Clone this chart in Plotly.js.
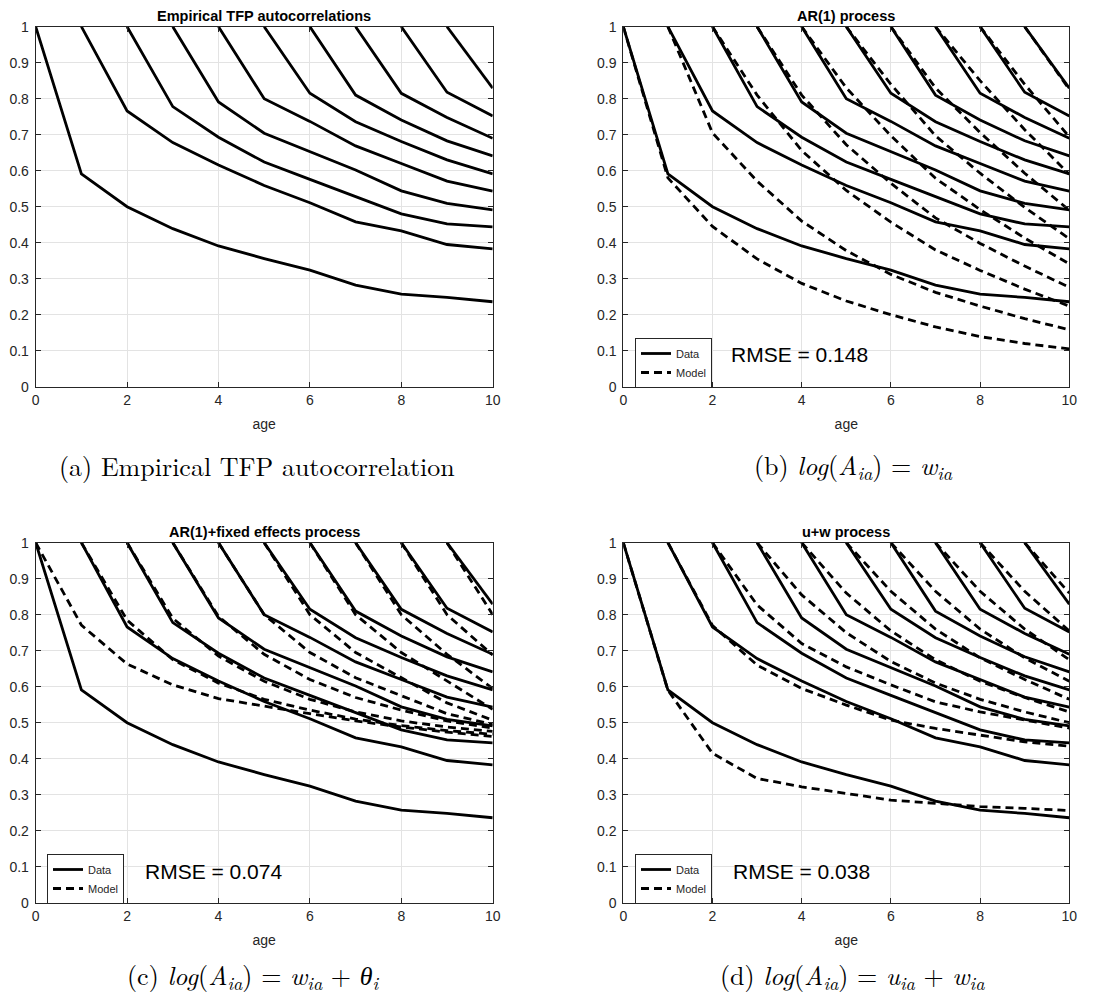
<!DOCTYPE html>
<html><head><meta charset="utf-8">
<script src="https://cdn.plot.ly/plotly-3.0.1.min.js"></script>
<style>html,body{margin:0;padding:0;background:#fff}#chart{width:1097px;height:1005px}</style>
</head><body><div id="chart"></div>
<script>
// ---------------- data ----------------
const ages = [0,1,2,3,4,5,6,7,8,9,10];
const startAges = [0,1,2,3,4,5,6,7,8,9];

// empirical autocorrelations: curve k starts at age k (value 1) and runs to age 10
const empirical = [
  [1, 0.591, 0.500, 0.439, 0.391, 0.356, 0.324, 0.282, 0.257, 0.248, 0.236],
  [1, 0.766, 0.678, 0.616, 0.559, 0.511, 0.458, 0.433, 0.395, 0.383],
  [1, 0.778, 0.693, 0.624, 0.576, 0.528, 0.480, 0.452, 0.444],
  [1, 0.791, 0.704, 0.653, 0.602, 0.544, 0.509, 0.491],
  [1, 0.800, 0.737, 0.669, 0.620, 0.571, 0.543],
  [1, 0.815, 0.736, 0.681, 0.630, 0.591],
  [1, 0.810, 0.741, 0.683, 0.641],
  [1, 0.815, 0.748, 0.690],
  [1, 0.818, 0.752],
  [1, 0.829]
];

// AR(1) model
const ar1Model = [
  [1, 0.580, 0.445, 0.355, 0.287, 0.238, 0.200, 0.166, 0.139, 0.120, 0.105],
  [1, 0.705, 0.571, 0.460, 0.378, 0.312, 0.262, 0.224, 0.189, 0.158],
  [1, 0.810, 0.656, 0.545, 0.457, 0.380, 0.323, 0.271, 0.224],
  [1, 0.810, 0.672, 0.565, 0.469, 0.398, 0.335, 0.276],
  [1, 0.830, 0.697, 0.579, 0.492, 0.413, 0.341],
  [1, 0.840, 0.697, 0.593, 0.498, 0.411],
  [1, 0.830, 0.706, 0.593, 0.490],
  [1, 0.850, 0.714, 0.590],
  [1, 0.840, 0.694],
  [1, 0.826]
];

// AR(1) + fixed effects model
const ar1FixedModel = [
  [1, 0.771, 0.663, 0.605, 0.567, 0.545, 0.525, 0.505, 0.488, 0.474, 0.462],
  [1, 0.785, 0.675, 0.610, 0.565, 0.535, 0.510, 0.492, 0.478, 0.468],
  [1, 0.790, 0.685, 0.615, 0.565, 0.530, 0.505, 0.488, 0.476],
  [1, 0.795, 0.690, 0.620, 0.570, 0.535, 0.505, 0.485],
  [1, 0.800, 0.695, 0.625, 0.575, 0.525, 0.495],
  [1, 0.800, 0.695, 0.625, 0.555, 0.507],
  [1, 0.800, 0.695, 0.615, 0.537],
  [1, 0.800, 0.690, 0.595],
  [1, 0.800, 0.688],
  [1, 0.800]
];

// u + w model
const uwModel = [
  [1, 0.590, 0.415, 0.345, 0.322, 0.304, 0.285, 0.276, 0.267, 0.262, 0.256],
  [1, 0.770, 0.660, 0.595, 0.549, 0.507, 0.484, 0.466, 0.447, 0.435],
  [1, 0.827, 0.720, 0.655, 0.605, 0.558, 0.530, 0.507, 0.485],
  [1, 0.855, 0.750, 0.670, 0.610, 0.565, 0.530, 0.500],
  [1, 0.860, 0.755, 0.675, 0.615, 0.570, 0.530],
  [1, 0.865, 0.760, 0.680, 0.620, 0.565],
  [1, 0.865, 0.760, 0.680, 0.615],
  [1, 0.865, 0.760, 0.675],
  [1, 0.865, 0.755],
  [1, 0.860]
];

const panelTitles = ['Empirical TFP autocorrelations', 'AR(1) process', 'AR(1)+fixed effects process', 'u+w process'];
const rmseLabels = [null, 'RMSE = 0.148', 'RMSE = 0.074', 'RMSE = 0.038'];
const captions = [
  '(a) Empirical TFP autocorrelation',
  '(b) <i>log</i>(<i>A</i><sub><i>ia</i></sub>) = <i>w</i><sub><i>ia</i></sub>',
  '(c) <i>log</i>(<i>A</i><sub><i>ia</i></sub>) = <i>w</i><sub><i>ia</i></sub> + <i>θ</i><sub><i>i</i></sub>',
  '(d) <i>log</i>(<i>A</i><sub><i>ia</i></sub>) = <i>u</i><sub><i>ia</i></sub> + <i>w</i><sub><i>ia</i></sub>'
];
const seriesNames = ['Data', 'Model'];

// ---------------- layout helpers ----------------
const W = 1097, H = 1005;
const px = v => v / W;
const py = v => 1 - v / H;
const SANS = '"Liberation Sans", Arial, Helvetica, sans-serif';
const SERIF = '"Latin Modern Roman", "CMU Serif", "Liberation Serif", "Times New Roman", serif';
const INK = '#262626';

const colDom = [[px(35.7), px(492.7)], [px(623.3), px(1069.3)]];
const rowDom = [[py(386.7), py(26.7)], [py(902.7), py(542.7)]];

const panels = [
  {ax: '', col: 0, row: 0, model: null, legend: null},
  {ax: '2', col: 1, row: 0, model: ar1Model, legend: 'legend'},
  {ax: '3', col: 0, row: 1, model: ar1FixedModel, legend: 'legend2'},
  {ax: '4', col: 1, row: 1, model: uwModel, legend: 'legend3'}
];

const traces = [];
panels.forEach(p => {
  const xa = 'x' + p.ax, ya = 'y' + p.ax;
  startAges.forEach((s, k) => {
    traces.push({
      type: 'scatter', mode: 'lines', xaxis: xa, yaxis: ya,
      x: ages.slice(s), y: empirical[k],
      line: {color: '#000', width: 2.8},
      name: seriesNames[0],
      showlegend: !!p.legend && k === 0,
      legend: p.legend || 'legend',
      hoverinfo: 'skip'
    });
  });
  if (p.model) {
    startAges.forEach((s, k) => {
      traces.push({
        type: 'scatter', mode: 'lines', xaxis: xa, yaxis: ya,
        x: ages.slice(s), y: p.model[k],
        line: {color: '#000', width: 2.8, dash: '8px,5px'},
        name: seriesNames[1],
        showlegend: k === 0,
        legend: p.legend,
        hoverinfo: 'skip'
      });
    });
  }
});

const axisCommon = {
  showgrid: true, gridcolor: '#e3e3e3', gridwidth: 1, zeroline: false,
  showline: true, linecolor: INK, linewidth: 1, mirror: 'ticks',
  ticks: 'inside', ticklen: 5, tickwidth: 1, tickcolor: INK,
  tickfont: {family: SANS, size: 14, color: INK},
  fixedrange: true
};

const layout = {
  width: W, height: H,
  margin: {l: 0, r: 0, t: 0, b: 0},
  paper_bgcolor: '#fff', plot_bgcolor: '#fff',
  showlegend: true,
  annotations: [], shapes: []
};

const legendBase = {
  bgcolor: '#fff', bordercolor: INK, borderwidth: 1,
  font: {family: SANS, size: 11, color: INK},
  xanchor: 'left', yanchor: 'top', tracegroupgap: 0, itemwidth: 30,
  itemclick: false, itemdoubleclick: false
};
layout.legend = Object.assign({}, legendBase, {x: px(635), y: py(338)});
layout.legend2 = Object.assign({}, legendBase, {x: px(47), y: py(854)});
layout.legend3 = Object.assign({}, legendBase, {x: px(635), y: py(854)});

const titleY = [py(15.7), py(531.7)];
const captionY = [py(465), py(975)];
const captionX = [px(257), px(853), px(253), px(852)];
const rmseY = [py(354), py(871)];
const rmseX = [px(729), px(143), px(731)];

panels.forEach((p, i) => {
  layout['xaxis' + p.ax] = Object.assign({}, axisCommon, {
    domain: colDom[p.col], anchor: 'y' + p.ax, range: [0, 10], dtick: 2, tick0: 0,
    title: {text: 'age', font: {family: SANS, size: 14, color: INK}, standoff: 12}
  });
  layout['yaxis' + p.ax] = Object.assign({}, axisCommon, {
    domain: rowDom[p.row], anchor: 'x' + p.ax, range: [0, 1], dtick: 0.1, tick0: 0,
    ticklabelstandoff: 3
  });
  const cx = (colDom[p.col][0] + colDom[p.col][1]) / 2;
  layout.annotations.push({
    xref: 'paper', yref: 'paper', x: cx, y: titleY[p.row],
    xanchor: 'center', yanchor: 'middle', showarrow: false,
    text: '<b>' + panelTitles[i] + '</b>',
    font: {family: SANS, size: 14.5, color: '#000'}
  });
  layout.annotations.push({
    xref: 'paper', yref: 'paper', x: captionX[i], y: captionY[p.row],
    xanchor: 'center', yanchor: 'middle', showarrow: false,
    text: captions[i],
    font: {family: SERIF, size: 26, color: '#000'}
  });
  if (rmseLabels[i]) {
    layout.annotations.push({
      xref: 'paper', yref: 'paper', x: rmseX[i - 1], y: rmseY[p.row],
      xanchor: 'left', yanchor: 'middle', showarrow: false,
      text: rmseLabels[i],
      font: {family: SANS, size: 21, color: '#000'}
    });
  }
});

Plotly.newPlot('chart', traces, layout, {staticPlot: true, displayModeBar: false});
</script>
</body></html>
